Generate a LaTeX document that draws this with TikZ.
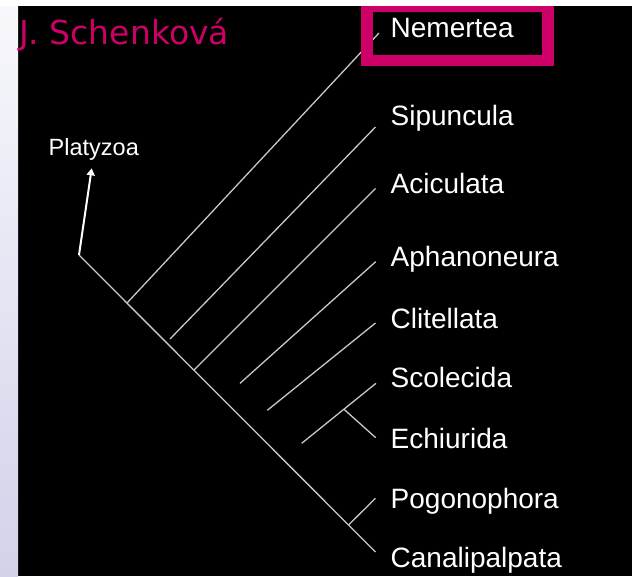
\documentclass[tikz,border=0pt]{standalone}
\usepackage{fontspec}
\setmainfont{Liberation Sans}
\newfontfamily\titlefont{DejaVu Sans}
\usetikzlibrary{arrows.meta}
\definecolor{mag}{HTML}{CC0066}
\definecolor{branchgray}{HTML}{C8C8C8}
\definecolor{striptop}{HTML}{F8F8FC}
\definecolor{stripbot}{HTML}{D2D2EA}
\begin{document}
\begin{tikzpicture}[x=1pt,y=-1pt,
  branch/.style={draw=branchgray,line width=1.3pt},
  taxon/.style={anchor=base west,inner sep=0pt,text=white,font=\fontsize{28}{28}\selectfont},
  smalltaxon/.style={anchor=base west,inner sep=0pt,text=white,font=\fontsize{23.5}{24}\selectfont},
  titlestyle/.style={anchor=base west,inner sep=0pt,text=mag,font=\titlefont\fontsize{33}{33}\selectfont},
  hilite/.style={draw=mag,line width=11.5pt},
  pointer/.style={draw=white,line width=2pt,-{Triangle[length=7pt,width=8pt]}}]
\useasboundingbox (0,0) rectangle (632,576);
% background
\fill[black] (0,0) rectangle (632,576);
\shade[top color=striptop,bottom color=stripbot] (0,0) rectangle (18,576);
% tree coordinates
\coordinate (root) at (79,255);
\coordinate (mainend) at (375.5,552);
\coordinate (nemA) at (127,303);   \coordinate (nemB) at (379,33);
\coordinate (sipA) at (170,339);   \coordinate (sipB) at (375.5,127);
\coordinate (aciA) at (194,370);   \coordinate (aciB) at (375.5,188.5);
\coordinate (aphA) at (240,383.3); \coordinate (aphB) at (375.7,261.7);
\coordinate (cliA) at (267.3,410.3); \coordinate (cliB) at (375.5,323);
\coordinate (scoA) at (301.7,443.3); \coordinate (scoB) at (376,383.3);
\coordinate (echA) at (344,409.3); \coordinate (echB) at (375.7,437.7);
\coordinate (pogA) at (349,524.5); \coordinate (pogB) at (375.5,498.3);
\coordinate (arrowtip) at (91.7,168.3);
% branches
\draw[branch] (root) -- (mainend);
\draw[branch] (nemA) -- (nemB);
\draw[branch] (sipA) -- (sipB);
\draw[branch] (aciA) -- (aciB);
\draw[branch] (aphA) -- (aphB);
\draw[branch] (cliA) -- (cliB);
\draw[branch] (scoA) -- (scoB);
\draw[branch] (echA) -- (echB);
\draw[branch] (pogA) -- (pogB);
\draw[pointer] (root) -- (arrowtip);
% highlight box
\draw[hilite] (367,6.5) rectangle (548,60.5);
% top white band
\fill[white] (0,0) rectangle (632,6);
% texts
\node[titlestyle] (title) at (19,44.3) {J. Schenková};
\node[smalltaxon] (platyzoa) at (48.5,155) {Platyzoa};
\node[taxon] (nemertea) at (390.5,37) {Nemertea};
\node[taxon] (sipuncula) at (390.5,125.5) {Sipuncula};
\node[taxon] (aciculata) at (390.5,193) {Aciculata};
\node[taxon] (aphanoneura) at (390.5,266.5) {Aphanoneura};
\node[taxon] (clitellata) at (390.5,328) {Clitellata};
\node[taxon] (scolecida) at (390.5,387.8) {Scolecida};
\node[taxon] (echiurida) at (390.5,448) {Echiurida};
\node[taxon] (pogonophora) at (390.5,508) {Pogonophora};
\node[taxon] (canalipalpata) at (390.5,567) {Canalipalpata};
\end{tikzpicture}
\end{document}
